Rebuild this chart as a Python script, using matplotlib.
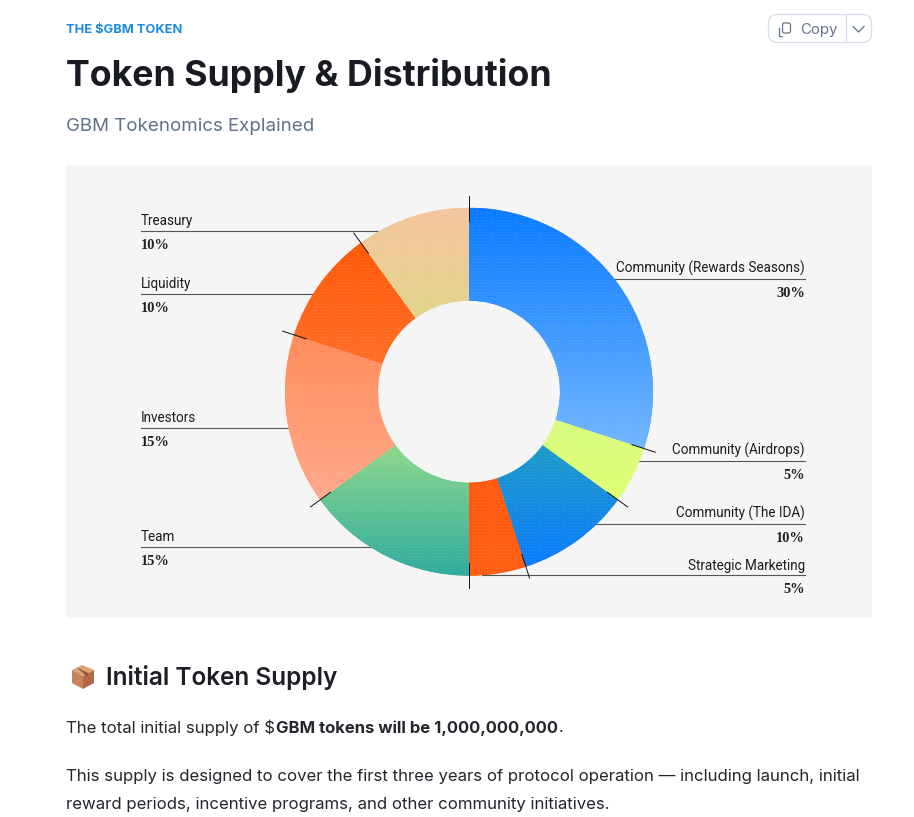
import numpy as np
import matplotlib
matplotlib.use('Agg')
import matplotlib.pyplot as plt
from matplotlib.colors import to_rgb
from matplotlib.patches import FancyBboxPatch, Rectangle, Polygon

W, H = 914, 817
CX, CY, R = 469, 391.7, 184
HOLE = 91

labels = ["Community (Rewards Seasons)", "Community (Airdrops)", "Community (The IDA)",
          "Strategic Marketing", "Team", "Investors", "Liquidity", "Treasury"]
shares = [30, 5, 10, 5, 15, 15, 10, 10]
top_colors = ["#0a7bff", "#d8fb80", "#1f9cc4", "#ff5a0f", "#8ed88c", "#ff8c5a", "#ff5a08", "#f5c59e"]
bottom_colors = ["#72b6ff", "#e0ff72", "#0a7bff", "#ff5f14", "#2fab9e", "#ffa98c", "#ff6e28", "#e2d48a"]
# y of the rule under each label
rule_y = [279, 461, 524, 575, 547, 427.5, 294, 231]
side = ["r", "r", "r", "r", "l", "l", "l", "l"]

fig = plt.figure(figsize=(W / 100, H / 100), dpi=100, facecolor="white")
bg = fig.add_axes([0, 0, 1, 1])
bg.set_xlim(0, W); bg.set_ylim(H, 0); bg.axis("off")

SANS = "Inter"
LABEL = "Roboto"
px = 0.72  # px -> pt at dpi 100

# page header
bg.text(66, 30, "THE $GBM TOKEN", fontsize=12.9 * px, color="#1a8ae5", fontweight="bold", family=SANS, va="center")
bg.text(66, 75.5, "Token Supply & Distribution", fontsize=35.7 * px, color="#191b23", fontweight="bold", family=SANS, va="center")
bg.text(66, 126, "GBM Tokenomics Explained", fontsize=18.7 * px, color="#5f7088", family=SANS, va="center")

# copy button
bg.add_patch(FancyBboxPatch((768.5, 14.5), 103, 28, boxstyle="round,pad=0,rounding_size=9",
                            fc="white", ec="#d6dfeb", lw=0.9))
bg.plot([845.5, 845.5], [15, 42], color="#d6dfeb", lw=0.9)
bg.text(800, 29.5, "Copy", fontsize=15 * px, color="#64748b", family=SANS, va="center")
bg.add_patch(FancyBboxPatch((782.5, 23), 8, 10, boxstyle="round,pad=0,rounding_size=2", fc="white", ec="#64748b", lw=0.9))
bg.plot([778.5, 778.5, 782], [28, 36, 36], color="#64748b", lw=0.9)
bg.plot([853, 858.5, 864], [26.5, 32, 26.5], color="#64748b", lw=0.9)

# picture panel
bg.add_patch(Rectangle((66, 165), 806, 453, fc="#f6f5f5", ec="none"))

# labels and rules, the donut covers their inner ends
for name, share, y, s in zip(labels, shares, rule_y, side):
    dx = np.sqrt(max(R ** 2 - (y - CY) ** 2, 0))
    if s == "l":
        bg.plot([141, CX - dx + 3], [y, y], color="#555555", lw=0.8)
        bg.text(141, y - 3, name, fontsize=13.5 * px, color="#1c1c1c", family=LABEL, ha="left", va="bottom")
        bg.text(141, y + 14.5, f"{share}%", fontsize=14.5 * px, color="#222222", family="Liberation Serif",
                fontweight="bold", ha="left", va="center")
    else:
        bg.plot([CX + dx - 3, 805], [y, y], color="#555555", lw=0.8)
        bg.text(805, y - 3 if y != 575 else y - 2, name, fontsize=13.5 * px, color="#1c1c1c", family=LABEL, ha="right", va="bottom")
        bg.text(805, y + 14.5, f"{share}%", fontsize=14.5 * px, color="#222222", family="Liberation Serif",
                fontweight="bold", ha="right", va="center")

# section below the picture
bg.text(106, 677, "Initial Token Supply", fontsize=24.4 * px, color="#1d1f27", fontweight="semibold", family=SANS, va="center")
bg.add_patch(Polygon([[72, 670], [82, 665], [94, 670], [83, 676]], fc="#dfa273", ec="none"))
bg.add_patch(Polygon([[72, 670], [83, 676], [83, 689], [72, 683]], fc="#c9835a", ec="none"))
bg.add_patch(Polygon([[83, 676], [94, 670], [94, 683], [83, 689]], fc="#b06a45", ec="none"))
bg.add_patch(Polygon([[77, 667.5], [88, 673], [88, 677], [85, 675]], fc="#8f5a3c", ec="none"))

body = "#24262e"
bg.text(66, 728, "The total initial supply of $", fontsize=16.75 * px, color=body, family=SANS, va="center")
bg.text(276, 728, "GBM tokens will be 1,000,000,000", fontsize=16.65 * px, color=body, family=SANS, fontweight="bold", va="center")
bg.text(558.5, 728, ".", fontsize=16.75 * px, color=body, family=SANS, va="center")
bg.text(66, 777, "This supply is designed to cover the first three years of protocol operation \u2014 including launch, initial",
        fontsize=16.75 * px, color=body, family=SANS, va="center")
bg.text(66, 804, "reward periods, incentive programs, and other community initiatives.",
        fontsize=16.75 * px, color=body, family=SANS, va="center")

# donut
ax = fig.add_axes([(CX - R) / W, 1 - (CY + R) / H, 2 * R / W, 2 * R / H])
ax.patch.set_alpha(0)
mean_colors = [tuple((np.array(to_rgb(a)) + np.array(to_rgb(b))) / 2) for a, b in zip(top_colors, bottom_colors)]
wedges, _ = ax.pie(shares, startangle=90, counterclock=False, radius=1, colors=mean_colors,
                   wedgeprops=dict(width=1 - HOLE / R, lw=0))
ax.set_xlim(-1, 1); ax.set_ylim(-1, 1)

n = int(2 * R)
yy, xx = np.mgrid[0:n, 0:n]
dots = ((xx % 3 == 0) & (yy % 3 == 0)) * 1.0
ys = np.linspace(1, -1, n)
for w, c0, c1 in zip(wedges, top_colors, bottom_colors):
    ext = w.get_path().get_extents()
    t = np.clip((ext.y1 - ys) / (ext.y1 - ext.y0), 0, 1)[:, None, None]
    img = (1 - t) * np.array(to_rgb(c0)) + t * np.array(to_rgb(c1))
    img = np.repeat(img, n, axis=1)
    img = img * (1 - 0.1 * dots[:, :, None]) + 0.1 * dots[:, :, None]
    im = ax.imshow(img, extent=(-1, 1, -1, 1), origin="upper", interpolation="nearest", aspect="auto", zorder=2)
    im.set_clip_path(w)
ax.set_xlim(-1, 1); ax.set_ylim(-1, 1)

# small ticks on every slice boundary
for a in np.cumsum([0] + shares[:-1]) / 100 * 2 * np.pi:
    s, c = np.sin(a), np.cos(a)
    ax.plot([0.93 * s, 1.065 * s], [0.93 * c, 1.065 * c], color="#111111", lw=0.7, zorder=3, clip_on=False)

fig.savefig("out.png", dpi=100)
